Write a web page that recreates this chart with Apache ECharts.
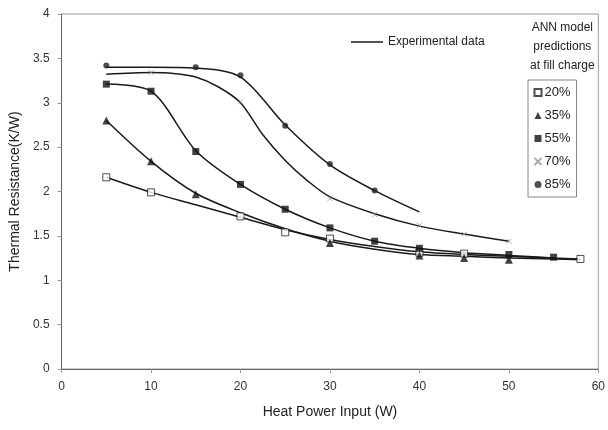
<!DOCTYPE html>
<html>
<head>
<meta charset="utf-8">
<script src="https://cdn.jsdelivr.net/npm/echarts@6/dist/echarts.min.js"></script>
<style>
  html, body { margin: 0; padding: 0; background: #fff; }
  #chart { width: 608px; height: 430px; }
</style>
</head>
<body>
<div id="chart"></div>
<script>
// experimental data (smoothed curves), [heat power W, resistance K/W]
const exp20 = [[5, 2.16], [10, 1.99], [15, 1.85], [20, 1.71], [25, 1.57], [30, 1.46], [35, 1.38], [40, 1.32], [45, 1.29], [50, 1.27], [55, 1.25], [58, 1.24]];
const exp35 = [[5, 2.80], [10, 2.34], [15, 1.98], [20, 1.76], [25, 1.58], [30, 1.44], [35, 1.35], [40, 1.29], [45, 1.27], [50, 1.25], [55, 1.24], [58, 1.23]];
const exp55 = [[5, 3.21], [10, 3.13], [15, 2.46], [20, 2.08], [25, 1.80], [30, 1.59], [35, 1.44], [40, 1.36], [45, 1.31], [50, 1.28], [55, 1.25]];
const exp70 = [[5, 3.32], [10, 3.34], [12.5, 3.33], [15, 3.29], [17.5, 3.18], [20, 3.00], [22.5, 2.64], [25, 2.35], [27.5, 2.12], [30, 1.94], [35, 1.75], [40, 1.61], [45, 1.52], [50, 1.44]];
const exp85 = [[5, 3.40], [10, 3.40], [15, 3.39], [20, 3.29], [25, 2.75], [30, 2.30], [35, 2.01], [40, 1.77]];

// ANN model predictions (markers)
const ann20 = [[5, 2.16], [10, 1.99], [20, 1.72], [25, 1.54], [30, 1.47], [40, 1.31], [45, 1.30], [58, 1.24]];
const ann35 = [[5, 2.80], [10, 2.34], [15, 1.97], [30, 1.42], [40, 1.28], [45, 1.25], [50, 1.23]];
const ann55 = [[5, 3.21], [10, 3.13], [15, 2.45], [20, 2.08], [25, 1.80], [30, 1.59], [35, 1.44], [40, 1.36], [50, 1.29], [55, 1.26]];
const ann70 = [[10, 3.34], [20, 3.01], [30, 1.92], [35, 1.74], [40, 1.62], [45, 1.52], [50, 1.44]];
const ann85 = [[5, 3.42], [15, 3.40], [20, 3.31], [25, 2.74], [30, 2.31], [35, 2.01]];

const chargeNames = ['20%', '35%', '55%', '70%', '85%'];
const xTicks = [0, 10, 20, 30, 40, 50, 60];
const yTicks = [0, 0.5, 1, 1.5, 2, 2.5, 3, 3.5, 4];

const font = 'Liberation Sans, Arial, sans-serif';
const chart = echarts.init(document.getElementById('chart'));

const crossPath = 'path://M0,0 L10,10 M10,0 L0,10';

const expLine = (data) => ({
  name: 'Experimental data',
  type: 'line',
  data: data,
  smooth: 0.3,
  symbol: 'none',
  itemStyle: { color: '#1a1a1a' },
  lineStyle: { color: '#1a1a1a', width: 1.5 },
  z: 2
});

const annMark = (name, data, symbol, size, style) => ({
  name: name,
  type: 'scatter',
  data: data,
  symbol: symbol,
  symbolSize: size,
  itemStyle: style,
  z: 3
});

const option = {
  animation: false,
  backgroundColor: '#fff',
  textStyle: { fontFamily: font },
  grid: {
    left: 61, right: 9, top: 14, bottom: 61,
    show: true, borderColor: '#999', borderWidth: 1
  },
  legend: [
    {
      data: [{ name: 'Experimental data', icon: 'rect' }],
      left: 346, top: 31,
      itemWidth: 32, itemHeight: 1.5,
      textStyle: { fontSize: 12, color: '#222', fontFamily: font }
    },
    {
      data: chargeNames,
      orient: 'vertical',
      left: 528, top: 80,
      width: 50,
      padding: [6, 6, 6, 4],
      itemGap: 10,
      itemWidth: 7, itemHeight: 7,
      borderColor: '#888', borderWidth: 1,
      textStyle: { fontSize: 13, color: '#222', fontFamily: font, padding: [0, 0, 0, -2] }
    }
  ],
  graphic: [
    {
      type: 'text',
      left: 530, top: 18,
      style: {
        text: 'ANN model\npredictions\nat fill charge',
        fill: '#222',
        font: '12px ' + font,
        textAlign: 'center',
        lineHeight: 19,
        x: 28
      }
    }
  ],
  xAxis: {
    type: 'value',
    min: 0, max: 60, interval: 10,
    name: 'Heat Power Input (W)',
    nameLocation: 'middle',
    nameGap: 36,
    nameTextStyle: { fontSize: 14, color: '#222', fontFamily: font },
    axisLine: { lineStyle: { color: '#666' } },
    axisTick: { show: true, length: 4, lineStyle: { color: '#999' } },
    axisLabel: {
      fontSize: 12, color: '#333', margin: 12,
      formatter: (v) => xTicks.includes(v) ? String(v) : ''
    },
    splitLine: { show: false }
  },
  yAxis: {
    type: 'value',
    min: 0, max: 4, interval: 0.5,
    name: 'Thermal Resistance(K/W)',
    nameLocation: 'middle',
    nameGap: 36,
    nameTextStyle: { fontSize: 14, color: '#222', fontFamily: font },
    axisLine: { show: true, lineStyle: { color: '#666' } },
    axisTick: { show: true, length: 4, lineStyle: { color: '#999' } },
    axisLabel: {
      fontSize: 12, color: '#333', margin: 12,
      formatter: (v) => yTicks.includes(v) ? String(v) : ''
    },
    splitLine: { show: false }
  },
  series: [
    expLine(exp20),
    expLine(exp35),
    expLine(exp55),
    expLine(exp70),
    expLine(exp85),
    annMark('20%', ann20, 'rect', 7, { color: '#fff', borderColor: '#222', borderWidth: 1 }),
    annMark('35%', ann35, 'triangle', 8, { color: '#111' }),
    annMark('55%', ann55, 'rect', 7, { color: '#111' }),
    annMark('70%', ann70, crossPath, 5, { color: 'none', borderColor: '#999', borderWidth: 1 }),
    annMark('85%', ann85, 'circle', 6, { color: '#222' })
  ]
};

chart.setOption(option);
</script>
</body>
</html>
